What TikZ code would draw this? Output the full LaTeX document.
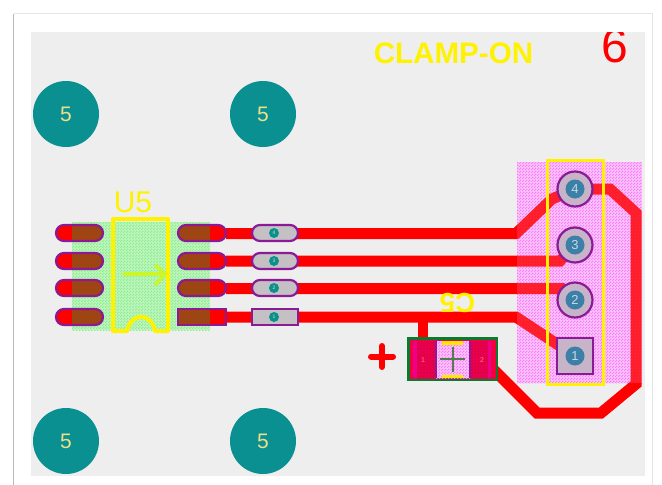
\documentclass[tikz,border=0pt]{standalone}
\usepackage{fontspec}
\setmainfont{Liberation Sans}
\usetikzlibrary{patterns}
\pgfdeclarepatternformonly{finecheck}{\pgfqpoint{0pt}{0pt}}{\pgfqpoint{3pt}{3pt}}{\pgfqpoint{3pt}{3pt}}{%
  \pgfpathrectangle{\pgfqpoint{0pt}{0pt}}{\pgfqpoint{1.5pt}{1.5pt}}%
  \pgfpathrectangle{\pgfqpoint{1.5pt}{1.5pt}}{\pgfqpoint{1.5pt}{1.5pt}}%
  \pgfusepath{fill}}
\definecolor{bggrey}{HTML}{EEEEEE}
\definecolor{teal5}{HTML}{0A9090}
\definecolor{label5}{HTML}{EEE08A}
\definecolor{padpurple}{HTML}{8A1A96}
\definecolor{viafill}{HTML}{C8B4C8}
\definecolor{midvia}{HTML}{C4C0C4}
\definecolor{viablue}{HTML}{3C80A8}
\definecolor{greenbase}{HTML}{C4F2C4}
\definecolor{hatchgreen}{HTML}{84F584}
\definecolor{pinkbase}{HTML}{F8C8F8}
\definecolor{hatchpink}{HTML}{FF78FF}
\definecolor{padbrown}{HTML}{B83A14}
\definecolor{padolive}{HTML}{6E5A10}
\definecolor{capred}{HTML}{F40040}
\definecolor{caphatch}{HTML}{CC0060}
\definecolor{csgreen}{HTML}{0C7A2C}
\definecolor{crossgreen}{HTML}{4F7F50}
\definecolor{arrowyg}{HTML}{CCF52A}
\tikzset{
  mount/.style={fill=teal5,draw=none},
  trace/.style={draw=red,line width=11pt,line join=miter},
  outl/.style={draw=padpurple,line width=2.2pt},
  silk/.style={draw=yellow,line width=3pt},
  smallnum/.style={text=label5,font=\fontsize{21}{21}\selectfont,inner sep=0pt},
  pinnum/.style={text=#1,font=\fontsize{13}{13}\selectfont,inner sep=0pt},
}
\newcommand{\alltraces}{%
  \path[trace] (226,233.5) -- (516,233.5) -- (552,199) -- (v4);
  \path[trace] (226,261) -- (560,261) -- (v3);
  \path[trace] (226,288.5) -- (562,288.5) -- (v2);
  \path[trace] (226,317) -- (516,317) -- (v1);
  \path[trace] (v4) -- (610,189) -- (636,213) -- (636,384) -- (601,413) -- (537,413) -- (494,370);
  \path[draw=red,line width=10.5pt] (423,317) -- (423,340);
}
\newcommand{\brownfill}{%
  \fill[padbrown] (72,222) rectangle (210,330);
  \fill[pattern=finecheck,pattern color=padolive] (72,222) rectangle (210,330);
}
\newcommand{\qfnpad}[3]{%
  \begin{scope}
    \fill[red,rounded corners=8pt] (#1,#3-8) rectangle (#2,#3+8);
    \clip[rounded corners=8pt] (#1,#3-8) rectangle (#2,#3+8);
    \brownfill
  \end{scope}
  \draw[outl,rounded corners=8pt] (#1,#3-8) rectangle (#2,#3+8);
}
\newcommand{\pathvia}[2]{%
  \filldraw[outl,fill=midvia,rounded corners=8pt] (252,#1-8) rectangle (298,#1+8);
  \fill[teal5] (274,#1) circle (5pt);
  \node[pinnum=label5,font=\fontsize{5}{5}\selectfont] at (274,#1) {#2};
}
\newcommand{\cappad}[2]{%
  \fill[capred] (#1,341) rectangle (#2,378);
  \fill[pattern=finecheck,pattern color=caphatch] (#1,341) rectangle (#2,378);
}
\begin{document}
\begin{tikzpicture}[x=1pt,y=-1pt]
\useasboundingbox (0,0) rectangle (662,485);
\fill[white] (0,0) rectangle (662,485);
% card edges
\draw[black!10,line width=.8pt] (13.5,13.5) -- (652,13.5) -- (652,485);
\draw[black!28,line width=1.6pt] (13.5,485) -- (13.5,14);
\fill[bggrey] (31,32) rectangle (645,476);
% coordinates of the header pads
\coordinate (v4) at (575,189);
\coordinate (v3) at (575,245);
\coordinate (v2) at (575,300);
\coordinate (v1) at (575,356);
% mounting holes
\foreach \n/\cx/\cy in {a/66/114,b/263/114,c/66/441,d/263/441}{
  \fill[mount] (\cx,\cy) circle (33pt);
  \node[smallnum] (hole\n) at (\cx,\cy) {5};
}
% titles
\node[text=yellow,font=\bfseries\fontsize{29.6}{30}\selectfont,anchor=base,inner sep=0pt] (title) at (453.5,63.5) {CLAMP-ON};
\begin{scope}
  \clip (31,32) rectangle (645,476);
  \node[text=red,font=\fontsize{48}{48}\selectfont,anchor=base,inner sep=0pt] (sheet) at (615,62) {6};
\end{scope}
% hatched courtyard of U5
\fill[greenbase] (72,222) rectangle (210,330);
\fill[pattern=finecheck,pattern color=hatchgreen] (72,222) rectangle (210,330);
% traces, opaque
\alltraces
% hatch of header over the traces
\fill[pinkbase] (517,162) rectangle (642,383);
\fill[pattern=finecheck,pattern color=hatchpink] (517,162) rectangle (642,383);
\begin{scope}[opacity=.82]
  \clip (517,162) rectangle (642,383);
  \alltraces
\end{scope}
% U5 pads
\foreach \y in {233,261,288,317}{\qfnpad{56}{103}{\y}}
\foreach \y in {233,261,288}{\qfnpad{178}{226}{\y}}
\begin{scope}
  \fill[red] (178,309) rectangle (226,325);
  \clip (178,309) rectangle (226,325);
  \brownfill
\end{scope}
\draw[outl] (178,309) rectangle (226,325);
% U5 silkscreen
\draw[draw=yellow,line width=4pt,line join=round,line cap=round] (127,331) -- (113,331) -- (113,219) -- (168,219) -- (168,331) -- (155,331) .. controls (151,312) and (131,312) .. (127,331);
\draw[arrowyg,line width=3.5pt] (123,274) -- (164,274);
\draw[arrowyg,line width=3.5pt] (155,265) -- (165,274) -- (155,285);
\node[text=yellow,font=\fontsize{30}{30}\selectfont,anchor=base,inner sep=0pt] (u5) at (133,212) {U5};
% in-line pads
\pathvia{233}{4}
\pathvia{261}{3}
\pathvia{288}{2}
\filldraw[outl,fill=midvia] (252,309) rectangle (298,325);
\fill[teal5] (274,317) circle (5pt);
\node[pinnum=label5,font=\fontsize{5}{5}\selectfont] at (274,317) {1};
% header silkscreen and pads
\draw[silk] (547,160.5) rectangle (603,384);
\foreach \v in {v4,v3,v2}{\fill[viafill] (\v) circle (17pt);}
\fill[viafill] (557,338) rectangle (593,374);
\foreach \v in {v4,v3,v2}{\draw[outl] (\v) circle (17.5pt);}
\draw[outl] (557,338) rectangle (593,374);
\foreach \v/\t in {v4/4,v3/3,v2/2,v1/1}{
  \fill[viablue] (\v) circle (9.5pt);
  \node[pinnum=white!70!viablue] (pin\t) at (\v) {\t};
}
% C5
\fill[capred] (409,339) rectangle (496,379);
\fill[magenta] (413,341) rectangle (417,378);
\fill[magenta] (488,341) rectangle (491,378);
\cappad{417}{436}
\cappad{470}{488}
\fill[pinkbase] (436,341) rectangle (470,378);
\fill[pattern=finecheck,pattern color=hatchpink] (436,341) rectangle (470,378);
\draw[padpurple,line width=1.8pt] (436,341) -- (436,378) (470,341) -- (470,378);
\fill[yellow!90!orange] (442,341) rectangle (463,344.5);
\fill[yellow!90!orange] (442,374.5) rectangle (463,378);
\draw[crossgreen,line width=2pt] (440,359) -- (465,359) (452.5,347) -- (452.5,371.5);
\draw[csgreen,line width=2.2pt] (408.5,338.5) rectangle (497,380);
\node[pinnum=red!50!white,font=\fontsize{7}{7}\selectfont] (c1) at (423,360) {1};
\node[pinnum=red!50!white,font=\fontsize{7}{7}\selectfont] (c2) at (482,360) {2};
\node[text=yellow,font=\bfseries\fontsize{27.5}{28}\selectfont,inner sep=0pt,rotate=180] (c5) at (457.5,302.5) {C5};
% plus
\draw[red,line width=6pt,line cap=round] (371,356.5) -- (393,356.5) (382,346) -- (382,367);
\end{tikzpicture}
\end{document}
